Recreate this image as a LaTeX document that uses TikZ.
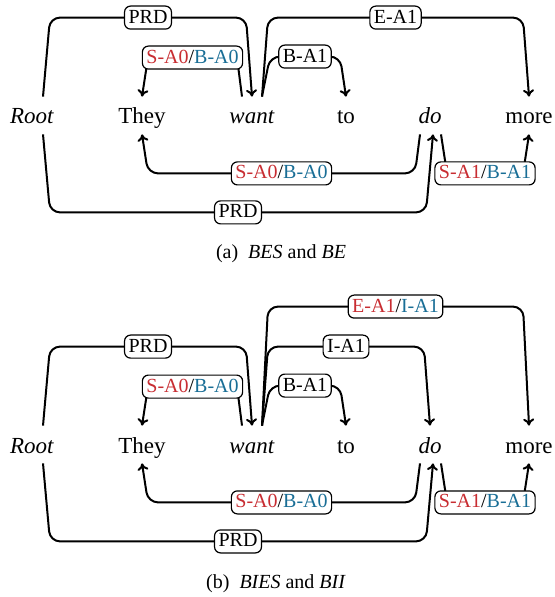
\documentclass[tikz,border=0pt]{standalone}
\usepackage{fontspec}
\setmainfont{Liberation Serif}
\usetikzlibrary{arrows.meta}
\usetikzlibrary{calc}

\definecolor{srlred}{RGB}{200,45,50}
\definecolor{srlblue}{RGB}{25,110,150}
\newcommand{\redtag}[1]{\textcolor{srlred}{#1}}
\newcommand{\bluetag}[1]{\textcolor{srlblue}{#1}}

\begin{document}
\begin{tikzpicture}[x=0.5pt,y=-0.5pt,
    word/.style={anchor=base, inner xsep=1pt, inner ysep=3.5pt, text height=10pt, text depth=1.5pt, font=\fontsize{11.5}{14}\selectfont},
    lbl/.style={draw, fill=white, rounded corners=3pt, line width=0.6pt, inner xsep=2pt, inner ysep=1.5pt, text height=7pt, text depth=1.5pt, font=\fontsize{10}{12}\selectfont},
    edge/.style={line width=1pt, rounded corners=5pt},
    arc/.style={edge, -{To[length=3.5pt,width=5.5pt]}},
    caption/.style={anchor=base, font=\fontsize{10}{12}\selectfont}]

\useasboundingbox (0,0) rectangle (554,597);

\foreach \p/\oy in {a/0,b/329} {
    % words of the sentence
    \foreach \w/\x/\t in {root/32/\textit{Root}, they/142/They, want/252/\textit{want}, to/346/to, do/430/\textit{do}, more/529/more} {
        \node[word] (\w\p) at (\x,124+\oy) {\t};
    }

    % arcs above the words
    \draw[arc] ($(root\p.north)+(11,0)$) -- ++(7,-79) -- node[lbl]{PRD} ($(want\p.north)+(-6,-79)$) -- (want\p.north);
    \draw[arc] ($(want\p.north)+(-10,0)$) -- ++(-5,-39) -- node[lbl]{\redtag{S-A0}/\bluetag{B-A0}} ($(they\p.north)+(6,-39)$) -- (they\p.north);
    \draw[arc] ($(want\p.north)+(10,0)$) -- ++(8,-40) -- node[lbl]{B-A1} ($(to\p.north)+(-6,-40)$) -- (to\p.north);

    % arcs below the words
    \draw[arc] ($(do\p.south)+(-10,0)$) -- ++(-5,39) -- node[lbl]{\redtag{S-A0}/\bluetag{B-A0}} ($(they\p.south)+(6,39)$) -- (they\p.south);
    \draw[arc] ($(do\p.south)+(11,0)$) -- ++(6,39) -- node[lbl]{\redtag{S-A1}/\bluetag{B-A1}} ($(more\p.south)+(-6,39)$) -- (more\p.south);
    \draw[arc] ($(root\p.south)+(11,0)$) -- ++(7,78) -- node[lbl]{PRD} ($(do\p.south)+(-4,78)$) -- ($(do\p.south)+(3,0)$);
}

% (a) only
\draw[arc] ($(wanta.north)+(10,0)$) -- ++(6,-79) -- node[lbl]{E-A1} ($(morea.north)+(-6,-79)$) -- (morea.north);

% (b) only
\draw[arc] ($(wantb.north)+(10,0)$) -- ++(6,-79) -- node[lbl]{I-A1} ($(dob.north)+(-6,-79)$) -- (dob.north);
\draw[arc] ($(wantb.north)+(10,0)$) -- ++(6,-119) -- node[lbl]{\redtag{E-A1}/\bluetag{I-A1}} ($(moreb.north)+(-6,-119)$) -- (moreb.north);

\node[caption] (capa) at (281,259) {(a)\hspace{5pt}\textit{BES} and \textit{BE}};
\node[caption] (capb) at (276,588) {(b)\hspace{5pt}\textit{BIES} and \textit{BII}};
\end{tikzpicture}
\end{document}
